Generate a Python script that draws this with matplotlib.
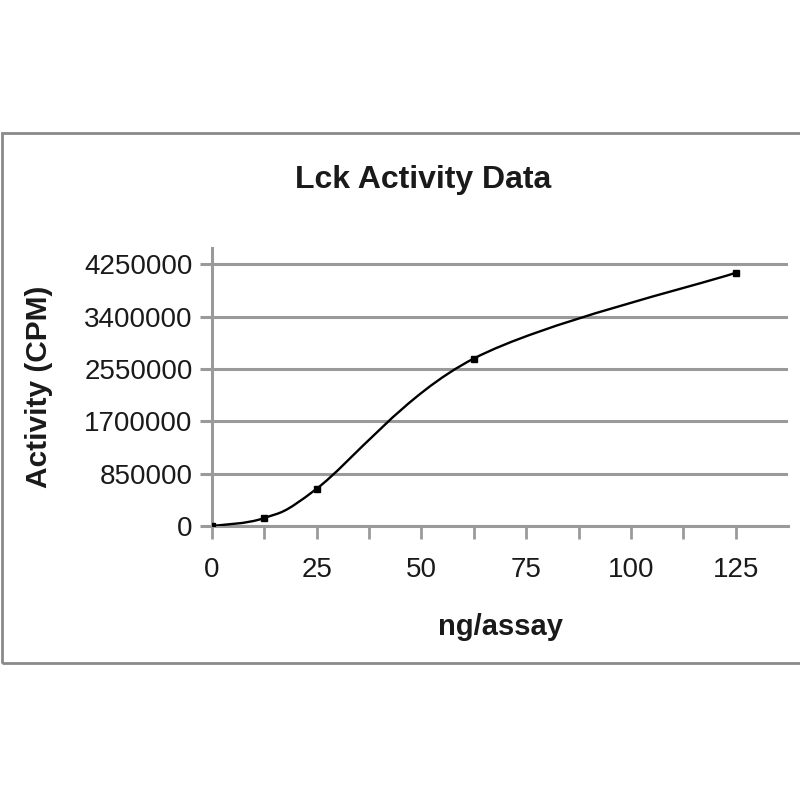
import numpy as np
import matplotlib
matplotlib.use("Agg")
import matplotlib.pyplot as plt
from matplotlib.path import Path
from matplotlib.patches import PathPatch, Rectangle

# Lck activity vs amount of enzyme per assay
ng_assay = [0, 12.5, 25, 62.5, 125]
activity = [0, 130000, 606000, 2720000, 4112000]

y_ticks = [0, 850000, 1700000, 2550000, 3400000, 4250000]
x_ticks = [0, 25, 50, 75, 100, 125]

plt.rcParams['font.family'] = ['Liberation Sans', 'DejaVu Sans']
txt = '#1a1a1a'
grid_col = '#9a9a9a'

fig = plt.figure(figsize=(8, 8), dpi=100)
ax = fig.add_axes([0.265, 0.3425, 0.72, 0.3475])

# Excel-style smoothed line: cubic Bezier segments, control points from neighbours
pts = np.column_stack([ng_assay, activity]).astype(float)
ext = np.vstack([pts[0], pts, pts[-1]])
verts = [tuple(pts[0])]
codes = [Path.MOVETO]
for i in range(1, len(ext) - 2):
    p0, p1, p2, p3 = ext[i - 1], ext[i], ext[i + 1], ext[i + 2]
    c1 = p1 + (p2 - p0) / 6
    c2 = p2 - (p3 - p1) / 6
    verts += [tuple(c1), tuple(c2), tuple(p2)]
    codes += [Path.CURVE4] * 3
ax.add_patch(PathPatch(Path(verts, codes), facecolor='none', edgecolor='black', lw=1.7, zorder=3))
ax.plot(ng_assay, activity, ls='none', marker='s', ms=3.8, color='black', zorder=4)

ax.set_xlim(0, 137.5)
ax.set_ylim(0, 4515000)
ax.set_xticks(x_ticks)
ax.set_xticks([12.5, 37.5, 62.5, 87.5, 112.5], minor=True)
ax.set_yticks(y_ticks)
ax.set_yticklabels([str(v) for v in y_ticks])
ax.yaxis.grid(True, color=grid_col, lw=2.2)
ax.set_axisbelow(True)

for s in ['top', 'right']:
    ax.spines[s].set_visible(False)
for s in ['left', 'bottom']:
    ax.spines[s].set_color(grid_col)
    ax.spines[s].set_linewidth(2.2)

ax.tick_params(axis='x', which='both', direction='out', length=9, width=2, color=grid_col,
               labelsize=20, labelcolor=txt, pad=13)
ax.tick_params(axis='y', direction='out', length=9, width=2.2, color=grid_col,
               labelsize=20, labelcolor=txt, pad=5)

ax.set_xlabel('ng/assay', fontsize=21, fontweight='bold', color=txt, labelpad=22)
ax.set_ylabel('Activity (CPM)', fontsize=21.5, fontweight='bold', color=txt, labelpad=22)
fig.text(0.529, 0.775, 'Lck Activity Data', fontsize=23, fontweight='bold', color=txt,
         ha='center', va='center')

fig.add_artist(Rectangle((0.002, 1 - 663 / 800), 1.1, 530 / 800, transform=fig.transFigure,
                         facecolor='none', edgecolor='#8a8a8a', lw=2))

fig.savefig('out.png', dpi=100, facecolor='white')
